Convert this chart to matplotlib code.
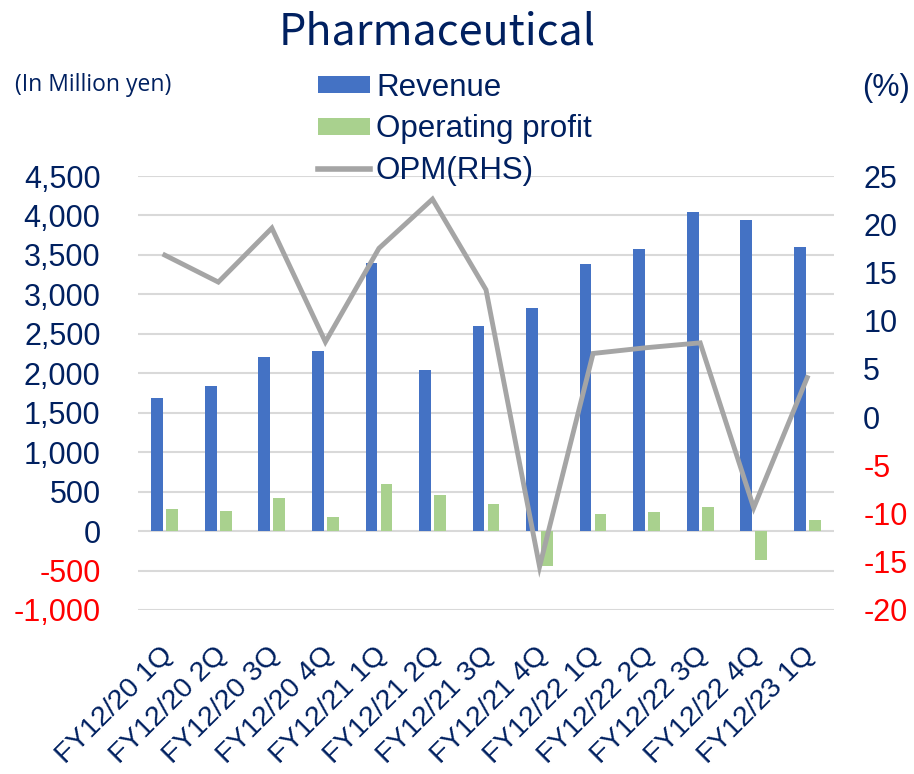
import matplotlib.pyplot as plt
import matplotlib.transforms as mtransforms
import numpy as np
from matplotlib.lines import Line2D
from matplotlib.patches import Patch

quarters = [
    "FY12/20 1Q", "FY12/20 2Q", "FY12/20 3Q", "FY12/20 4Q",
    "FY12/21 1Q", "FY12/21 2Q", "FY12/21 3Q", "FY12/21 4Q",
    "FY12/22 1Q", "FY12/22 2Q", "FY12/22 3Q", "FY12/22 4Q",
    "FY12/23 1Q",
]
revenue = [1690, 1840, 2200, 2280, 3400, 2040, 2600, 2830, 3390, 3580, 4050, 3940, 3600]
op_profit = [275, 250, 423, 173, 592, 461, 338, -441, 216, 245, 305, -368, 140]
opm = [16.8, 14.0, 19.6, 7.8, 17.5, 22.6, 13.2, -15.5, 6.6, 7.2, 7.7, -9.4, 4.1]

left_ticks = list(range(-1000, 4501, 500))
right_ticks = list(range(-20, 26, 5))

NAVY = "#002060"
RED = "#FF0000"
BLUE = "#4472C4"
GREEN = "#A9D18E"
GRAY = "#A5A5A5"
FONT = ["Liberation Sans", "DejaVu Sans"]

plt.rcParams["font.family"] = FONT

fig = plt.figure(figsize=(9.14, 7.74), dpi=100)
ax = fig.add_axes([0.151, 0.2119, 0.7615, 0.5607])
ax2 = ax.twinx()

x = np.arange(len(quarters))
ax.bar(x - 0.14, revenue, width=0.22, color=BLUE, zorder=2)
ax.bar(x + 0.14, op_profit, width=0.22, color=GREEN, zorder=2)
ax2.plot(x, opm, color=GRAY, linewidth=3.5, solid_joinstyle="miter", zorder=3)

ax.set_xlim(-0.5, len(quarters) - 0.5)
ax.set_ylim(-1000, 4500)
ax.set_yticks(left_ticks)
ax.set_yticklabels([f"{v:,}" for v in left_ticks])
ax2.set_ylim(-20, 25)
ax2.set_yticks(right_ticks)
ax2.set_yticklabels([str(v) for v in right_ticks])

ax.grid(axis="y", color="#D9D9D9", linewidth=1.5, zorder=0)
ax.set_axisbelow(True)
for a in (ax, ax2):
    for s in a.spines.values():
        s.set_visible(False)

ax.tick_params(axis="y", length=0, pad=27, labelsize=22)
ax2.tick_params(axis="y", length=0, pad=21, labelsize=22)
ax.tick_params(axis="x", length=0, pad=23)
for lab, v in zip(ax.get_yticklabels(), left_ticks):
    lab.set_color(RED if v < 0 else NAVY)
for lab, v in zip(ax2.get_yticklabels(), right_ticks):
    lab.set_color(RED if v < 0 else NAVY)

ax.set_xticks(x)
ax.set_xticklabels(quarters, rotation=45, ha="right", va="top",
                   rotation_mode="anchor", fontsize=20.5, color=NAVY)
offset = mtransforms.ScaledTranslation(-5 / 100, 0, fig.dpi_scale_trans)
for lab in ax.get_xticklabels():
    lab.set_transform(lab.get_transform() + offset)

fig.text(0.478, 0.958, "Pharmaceutical", ha="center", va="center",
         fontsize=31, color=NAVY, family=["Noto Sans CJK JP", "DejaVu Sans"])
fig.text(0.016, 0.89, "(In Million yen)", ha="left", va="center",
         fontsize=16.5, color=NAVY, family=["Open Sans", "DejaVu Sans"])
fig.text(0.943, 0.886, "(%)", ha="left", va="center", fontsize=22, color=NAVY)

handles = [
    Patch(facecolor=BLUE, edgecolor="none"),
    Patch(facecolor=GREEN, edgecolor="none"),
    Line2D([], [], color=GRAY, linewidth=4),
]
leg = ax2.legend(handles, ["Revenue", "Operating profit", "OPM(RHS)"],
                 loc="upper left", bbox_to_anchor=(0.348, 0.906),
                 bbox_transform=fig.transFigure, frameon=False,
                 fontsize=22.5, handlelength=1.65, handleheight=0.45,
                 handletextpad=0.2, labelspacing=0.37, borderpad=0,
                 borderaxespad=0)
for t in leg.get_texts():
    t.set_color(NAVY)

fig.savefig("out.png", dpi=100)
